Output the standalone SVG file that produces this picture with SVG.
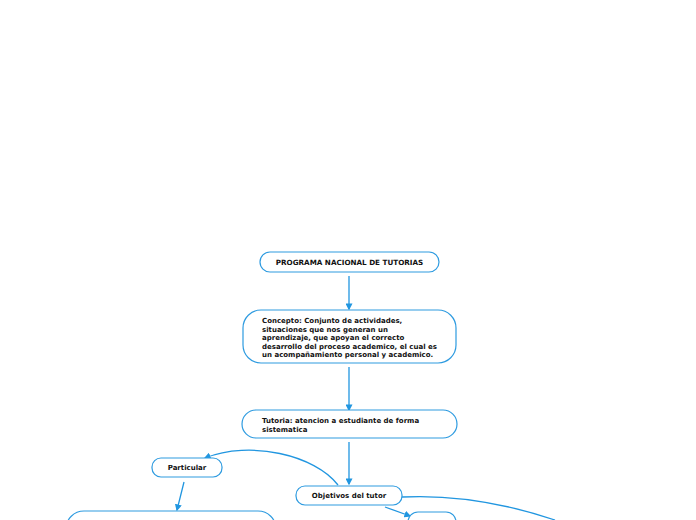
<svg xmlns="http://www.w3.org/2000/svg" width="696" height="520" viewBox="0 0 696 520">
<defs>
<style>
.n{fill:#fff;stroke:#2e9be0;stroke-width:1.2}
.t{font-family:"DejaVu Sans",Verdana,sans-serif;font-weight:bold;font-size:7px;fill:#111}
.c{fill:none;stroke:#2196e0;stroke-width:1.3}
</style>
<marker id="a" viewBox="0 0 10 10" refX="8" refY="5" markerWidth="7" markerHeight="7" orient="auto" markerUnits="userSpaceOnUse"><path d="M0,0 L10,5 L0,10 z" fill="#2196e0"/></marker>
</defs>
<rect width="696" height="520" fill="#fff"/>
<g id="connectors">
<path class="c" d="M349,276 L349,309" marker-end="url(#a)"/>
<path class="c" d="M349,367 L349,410" marker-end="url(#a)"/>
<path class="c" d="M349,442 L349,484" marker-end="url(#a)"/>
<path class="c" d="M338,485 C315,455 250,440 205,458" marker-end="url(#a)"/>
<path class="c" d="M184,482 L177,510" marker-end="url(#a)"/>
<path class="c" d="M402,497 C460,494 510,505 555,520"/>
<path class="c" d="M385,507 L410,516" marker-end="url(#a)"/>
</g>
<g id="n1"><rect class="n" x="260" y="252" width="179" height="20" rx="10"/><text class="t" x="349.5" y="264.5" text-anchor="middle" style="font-size:7.2px">PROGRAMA NACIONAL DE TUTORIAS</text></g>
<g id="n2"><rect class="n" x="243" y="310" width="213" height="53" rx="18"/>
<text class="t" x="262"><tspan x="262" y="323">Concepto: Conjunto de actividades,</tspan><tspan x="262" y="331.5">situaciones que nos generan un</tspan><tspan x="262" y="340">aprendizaje, que apoyan el correcto</tspan><tspan x="262" y="348.5">desarrollo del proceso academico, el cual es</tspan><tspan x="262" y="357">un acompañamiento personal y academico.</tspan></text></g>
<g id="n3"><rect class="n" x="242" y="410" width="215" height="28" rx="14"/>
<text class="t"><tspan x="262" y="423">Tutoria: atencion a estudiante de forma</tspan><tspan x="262" y="431.5">sistematica</tspan></text></g>
<g id="n4"><rect class="n" x="296" y="486" width="106" height="19" rx="9"/><text class="t" x="349" y="497.5" text-anchor="middle">Objetivos del tutor</text></g>
<g id="n5"><rect class="n" x="152" y="458" width="70" height="19" rx="9"/><text class="t" x="187" y="470" text-anchor="middle">Particular</text></g>
<g id="n6"><rect class="n" x="66" y="511" width="210" height="40" rx="18"/></g>
<g id="n7"><rect class="n" x="408" y="512" width="48" height="30" rx="10"/></g>
</svg>
